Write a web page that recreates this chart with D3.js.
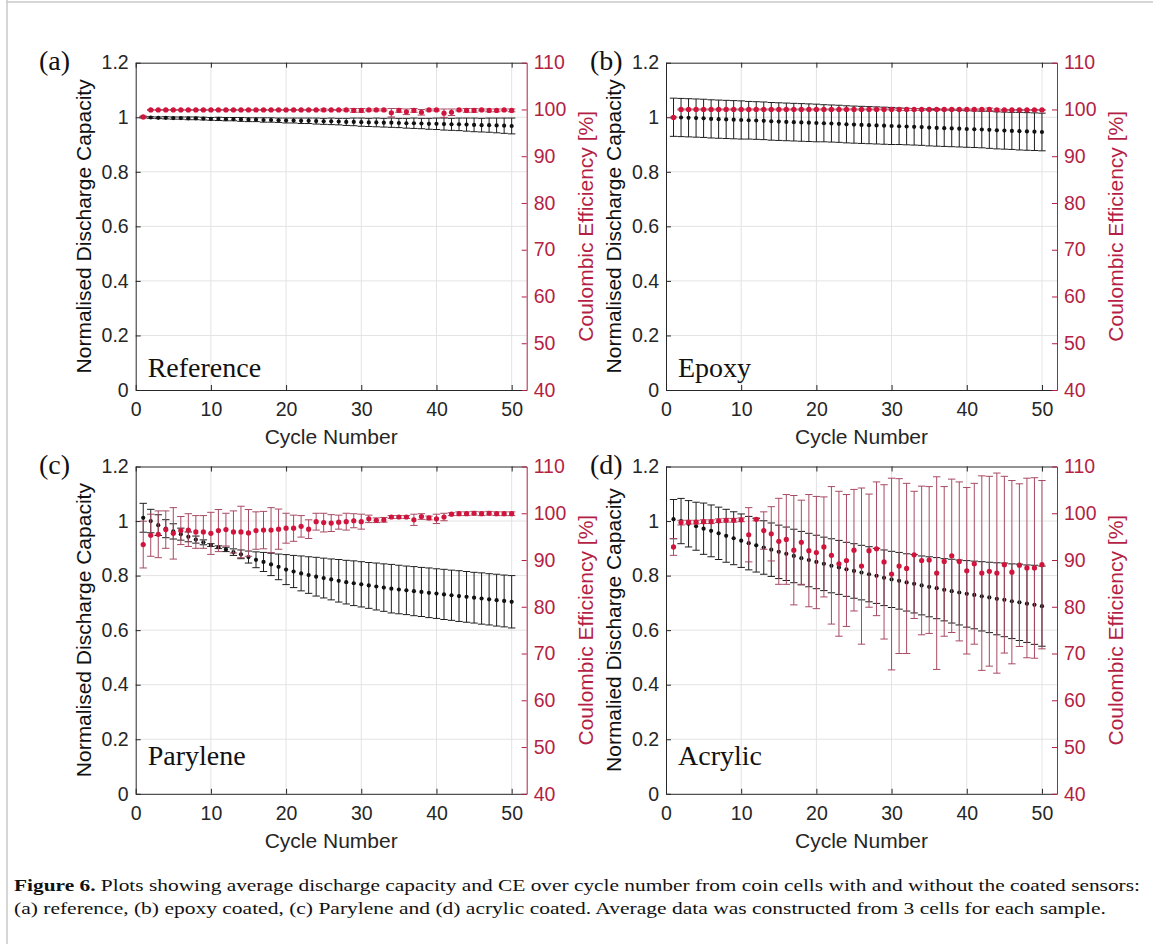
<!DOCTYPE html>
<html>
<head>
<meta charset="utf-8">
<script src="https://cdn.jsdelivr.net/npm/d3@7"></script>
<style>
body { margin: 0; background: #fff; }
text { font-family: "Liberation Sans", Arial, sans-serif; }
.serif { font-family: "Liberation Serif", "Times New Roman", serif; }
</style>
</head>
<body>
<svg id="fig" width="1153" height="944"></svg>
<script>
// cycle numbers (x categories)
const cycles = d3.range(1, 51)
const xTicks = [0, 10, 20, 30, 40, 50]
const capTicks = [0, 0.2, 0.4, 0.6, 0.8, 1, 1.2]
const ceTicks = [40, 50, 60, 70, 80, 90, 100, 110]

// (a) reference
const capA = [1.000,0.999,0.998,0.998,0.997,0.997,0.996,0.996,0.995,0.994,
  0.994,0.993,0.993,0.992,0.991,0.991,0.990,0.990,0.989,0.988,
  0.988,0.987,0.987,0.986,0.985,0.985,0.984,0.983,0.983,0.982,
  0.981,0.981,0.980,0.980,0.979,0.978,0.978,0.977,0.976,0.976,
  0.975,0.974,0.974,0.973,0.972,0.971,0.971,0.970,0.969,0.968]
const capAErr = [0.002,0.003,0.003,0.004,0.004,0.004,0.005,0.005,0.005,0.005,
  0.006,0.006,0.006,0.007,0.007,0.007,0.008,0.008,0.008,0.009,
  0.009,0.010,0.010,0.011,0.011,0.012,0.012,0.013,0.014,0.015,
  0.015,0.016,0.016,0.017,0.017,0.018,0.019,0.019,0.020,0.021,
  0.022,0.022,0.023,0.024,0.025,0.025,0.026,0.027,0.028,0.029]
const ceA = [98.4,99.9,99.9,99.9,99.9,99.9,99.9,99.9,99.9,99.9,
  99.9,99.9,99.9,99.9,99.9,99.9,99.9,99.9,99.9,99.9,
  99.9,99.9,99.9,99.9,99.9,99.9,99.9,99.9,99.8,99.8,
  99.9,99.9,99.9,99.3,99.8,99.5,99.8,99.4,99.9,99.9,
  99.2,99.4,99.9,99.8,99.8,99.9,99.8,99.8,99.9,99.8]
const ceAErr = [0.2,0.1,0.1,0.1,0.1,0.1,0.1,0.1,0.1,0.1,
  0.1,0.1,0.1,0.1,0.1,0.1,0.1,0.1,0.1,0.1,
  0.1,0.1,0.1,0.1,0.2,0.1,0.1,0.2,0.4,0.4,
  0.2,0.2,0.2,0.9,0.4,0.6,0.4,0.6,0.2,0.2,
  0.9,0.7,0.2,0.4,0.4,0.2,0.3,0.3,0.2,0.3]

// (b) epoxy
const capB = [1.000,0.999,0.998,0.997,0.996,0.994,0.993,0.992,0.991,0.990,
  0.989,0.988,0.987,0.985,0.984,0.983,0.982,0.981,0.980,0.979,
  0.978,0.977,0.976,0.974,0.973,0.972,0.971,0.970,0.969,0.968,
  0.967,0.966,0.965,0.964,0.962,0.961,0.960,0.959,0.958,0.957,
  0.956,0.955,0.954,0.952,0.951,0.950,0.949,0.948,0.947,0.946]
const capBErr = [0.070,0.070,0.070,0.070,0.070,0.070,0.070,0.070,0.070,0.070,
  0.069,0.069,0.069,0.069,0.069,0.069,0.069,0.069,0.069,0.069,
  0.068,0.068,0.068,0.068,0.068,0.068,0.068,0.068,0.068,0.068,
  0.067,0.067,0.067,0.067,0.067,0.067,0.067,0.067,0.067,0.067,
  0.067,0.067,0.068,0.068,0.068,0.068,0.069,0.069,0.069,0.069]
const ceB = [98.3,100.0,100.0,100.0,100.0,100.0,100.0,100.0,100.0,100.0,
  100.0,100.0,100.0,100.0,100.0,100.0,100.0,100.0,100.0,100.0,
  100.0,100.0,100.0,100.0,100.0,100.0,100.0,100.0,100.0,100.0,
  100.0,100.0,100.0,100.0,100.0,100.0,100.0,100.0,100.0,100.0,
  100.0,100.0,100.0,99.9,99.9,99.9,99.9,99.9,99.9,99.9]
const ceBErr = [0.1,0.1,0.1,0.1,0.1,0.1,0.1,0.1,0.1,0.1,
  0.1,0.1,0.1,0.1,0.1,0.1,0.1,0.1,0.1,0.1,
  0.1,0.1,0.1,0.1,0.1,0.1,0.1,0.1,0.1,0.1,
  0.2,0.2,0.2,0.2,0.2,0.2,0.1,0.1,0.1,0.1,
  0.1,0.1,0.3,0.2,0.1,0.1,0.1,0.1,0.1,0.1]

// (c) parylene
const capC = [1.012,1.000,0.985,0.972,0.962,0.952,0.942,0.932,0.922,0.912,
  0.904,0.896,0.886,0.878,0.868,0.858,0.850,0.841,0.832,0.822,
  0.815,0.808,0.802,0.796,0.791,0.786,0.781,0.776,0.772,0.768,
  0.764,0.760,0.756,0.752,0.749,0.746,0.743,0.740,0.737,0.734,
  0.731,0.728,0.725,0.722,0.719,0.716,0.713,0.710,0.707,0.704]
const capCErr = [0.053,0.043,0.038,0.033,0.028,0.022,0.018,0.013,0.009,0.005,
  0.005,0.008,0.012,0.016,0.022,0.029,0.035,0.041,0.047,0.055,
  0.059,0.064,0.067,0.071,0.073,0.075,0.078,0.080,0.082,0.083,
  0.084,0.086,0.087,0.089,0.089,0.089,0.090,0.090,0.091,0.091,
  0.092,0.092,0.093,0.093,0.093,0.094,0.094,0.095,0.095,0.096]
const ceC = [93.3,95.3,95.5,96.5,95.7,96.3,96.4,96.0,96.0,95.7,
  96.3,96.5,96.0,96.0,95.8,96.3,96.4,96.4,96.6,96.8,
  96.8,97.2,96.6,98.2,98.0,97.9,98.1,98.2,98.4,98.2,
  98.8,98.5,98.6,99.2,99.2,99.2,98.6,99.3,99.0,98.8,
  99.2,99.8,99.9,99.9,100.0,99.9,100.0,99.9,99.9,99.9]
const ceCErr = [5.0,4.5,5.0,4.0,5.5,3.0,3.5,3.5,3.5,4.5,
  4.5,3.5,4.5,5.5,5.0,4.0,4.0,4.8,4.3,3.2,
  2.8,2.3,2.0,1.8,2.0,1.8,1.5,1.8,1.5,1.6,
  0.8,0.5,0.5,0.3,0.3,0.3,1.2,0.6,0.4,1.0,
  0.8,0.3,0.4,0.4,0.4,0.4,0.4,0.4,0.4,0.4]

// (d) acrylic
const capD = [1.007,1.000,0.990,0.981,0.972,0.964,0.955,0.946,0.937,0.928,
  0.919,0.911,0.903,0.895,0.887,0.880,0.872,0.864,0.857,0.850,
  0.843,0.836,0.830,0.823,0.817,0.811,0.805,0.799,0.792,0.786,
  0.781,0.775,0.770,0.764,0.759,0.754,0.748,0.743,0.738,0.733,
  0.729,0.724,0.720,0.715,0.711,0.706,0.702,0.697,0.693,0.688]
const capDErr = [0.072,0.083,0.085,0.088,0.094,0.095,0.096,0.097,0.097,0.098,
  0.098,0.098,0.098,0.098,0.098,0.098,0.098,0.098,0.098,0.098,
  0.098,0.099,0.099,0.099,0.100,0.100,0.101,0.101,0.102,0.103,
  0.104,0.105,0.107,0.108,0.110,0.112,0.114,0.117,0.119,0.122,
  0.124,0.127,0.129,0.132,0.135,0.137,0.140,0.142,0.145,0.147]
const ceD = [92.8,98.0,98.1,98.1,98.2,98.2,98.4,98.5,98.5,98.6,
  95.4,98.7,96.3,95.6,94.0,94.4,92.1,93.8,92.0,91.6,
  92.8,91.0,89.2,89.9,92.1,88.7,92.0,92.4,89.6,87.0,
  88.7,88.2,91.1,89.9,90.0,87.2,89.7,90.9,89.7,87.7,
  89.2,87.2,87.6,87.2,89.0,87.4,88.9,88.3,88.3,89.0]
const ceDErr = [1.8,0.5,0.4,0.4,0.4,0.4,0.4,0.4,0.4,0.4,
  5.8,0.3,4.0,5.8,9.2,9.6,11.7,9.0,12.0,12.0,
  10.7,14.7,15.5,14.1,13.0,16.7,12.1,14.3,16.5,20.5,
  18.7,18.2,13.6,15.9,15.7,20.6,16.0,16.4,17.0,17.8,
  17.2,20.8,20.3,21.4,18.9,19.6,17.4,19.2,19.3,18.0]

const capLabels = ["Normalised Discharge Capacity", "Normalised Discharge Capacity",
  "Normalised Discharge Capacity", "Normalied Discharge Capacity"]
const sampleNames = ["Reference", "Epoxy", "Parylene", "Acrylic"]
const panelTags = ["(a)", "(b)", "(c)", "(d)"]

const W = 391, H = 327.3
const ink = "#262626", red = "#b41f45", redMark = "#d0143c", redBar = "#a84a63"
const tickFont = "19.5px", titleFont = "21px"

const svg = d3.select("#fig")

// thin frame round the figure
svg.append("line").attr("x1", 7).attr("x2", 7).attr("y1", 0).attr("y2", 944)
  .attr("stroke", "#c8c8c8").attr("stroke-width", 1.5)
svg.append("line").attr("x1", 7).attr("x2", 1153).attr("y1", 2).attr("y2", 2)
  .attr("stroke", "#c8c8c8").attr("stroke-width", 1.5)

const panels = [
  {left: 135.7, top: 62.7, cap: capA, capErr: capAErr, ce: ceA, ceErr: ceAErr, tagX: 39, nameY: 377},
  {left: 666, top: 62.7, cap: capB, capErr: capBErr, ce: ceB, ceErr: ceBErr, tagX: 590, nameY: 377},
  {left: 135.7, top: 466.5, cap: capC, capErr: capCErr, ce: ceC, ceErr: ceCErr, tagX: 39, nameY: 765},
  {left: 666, top: 466.5, cap: capD, capErr: capDErr, ce: ceD, ceErr: ceDErr, tagX: 590, nameY: 765}
]

function errorbars(g, x, y, vals, errs, color, capHalf){
  const d = cycles.map((c, i) => ({c: c, v: vals[i], e: errs[i]}))
  const eb = g.append("g").attr("stroke", color).attr("stroke-width", 1).attr("fill", "none")
  eb.selectAll(".v").data(d).enter().append("line")
    .attr("x1", d => x(d.c)).attr("x2", d => x(d.c))
    .attr("y1", d => y(d.v - d.e)).attr("y2", d => y(d.v + d.e))
  eb.selectAll(".t").data(d).enter().append("line")
    .attr("x1", d => x(d.c) - capHalf).attr("x2", d => x(d.c) + capHalf)
    .attr("y1", d => y(d.v + d.e)).attr("y2", d => y(d.v + d.e))
  eb.selectAll(".b").data(d).enter().append("line")
    .attr("x1", d => x(d.c) - capHalf).attr("x2", d => x(d.c) + capHalf)
    .attr("y1", d => y(d.v - d.e)).attr("y2", d => y(d.v - d.e))
  return d
}

panels.forEach(function(p, k){
  const g = svg.append("g")
  const x = d3.scaleLinear().domain([0, 52]).range([p.left, p.left + W])
  const yL = d3.scaleLinear().domain([0, 1.2]).range([p.top + H, p.top])
  const yR = d3.scaleLinear().domain([40, 110]).range([p.top + H, p.top])
  const bottom = p.top + H, right = p.left + W

  // grid
  g.append("g").selectAll("line").data(xTicks.slice(1)).enter().append("line")
    .attr("x1", d => x(d)).attr("x2", d => x(d)).attr("y1", p.top).attr("y2", bottom)
    .attr("stroke", "#e3e3e3")
  g.append("g").selectAll("line").data(capTicks.slice(1, 6)).enter().append("line")
    .attr("y1", d => yL(d)).attr("y2", d => yL(d)).attr("x1", p.left).attr("x2", right)
    .attr("stroke", "#e3e3e3")

  // axes, ticks inside like matlab
  const axB = g.append("g").attr("transform", `translate(0,${bottom})`)
    .call(d3.axisBottom(x).tickValues(xTicks).tickSize(-5).tickSizeOuter(0).tickPadding(12))
  const axT = g.append("g").attr("transform", `translate(0,${p.top})`)
    .call(d3.axisTop(x).tickValues(xTicks).tickSize(-5).tickSizeOuter(0).tickFormat(""))
  const axL = g.append("g").attr("transform", `translate(${p.left},0)`)
    .call(d3.axisLeft(yL).tickValues(capTicks).tickSize(-5).tickSizeOuter(0).tickPadding(7).tickFormat(d3.format("~g")))
  const axR = g.append("g").attr("transform", `translate(${right},0)`)
    .call(d3.axisRight(yR).tickValues(ceTicks).tickSize(-5).tickSizeOuter(0).tickPadding(7))

  ;[axB, axT, axL].forEach(a => {
    a.selectAll("path,line").attr("stroke", ink)
    a.selectAll("text").attr("fill", ink).style("font-size", tickFont)
  })
  axR.selectAll("path,line").attr("stroke", red)
  axR.selectAll("text").attr("fill", red).style("font-size", tickFont)
  g.selectAll(".domain").attr("stroke-width", 1)

  // data: capacity (left) then CE (right)
  const dc = errorbars(g, x, yL, p.cap, p.capErr, "#1e1e1e", 3.7)
  g.append("g").selectAll("circle").data(dc).enter().append("circle")
    .attr("cx", d => x(d.c)).attr("cy", d => yL(d.v)).attr("r", 2.1).attr("fill", "#111")
  const dr = errorbars(g, x, yR, p.ce, p.ceErr, redBar, 3.7)
  g.append("g").selectAll("circle").data(dr).enter().append("circle")
    .attr("cx", d => x(d.c)).attr("cy", d => yR(d.v)).attr("r", 2.6).attr("fill", redMark)

  // axis titles
  g.append("text").attr("x", (p.left + right) / 2).attr("y", bottom + 54)
    .attr("text-anchor", "middle").attr("fill", ink).style("font-size", titleFont).text("Cycle Number")
  g.append("text").attr("transform", `translate(${p.left - 52},${p.top + H / 2}) rotate(-90)`)
    .attr("dy", "0.35em").attr("text-anchor", "middle").attr("fill", "#111")
    .style("font-size", titleFont).text(capLabels[k])
  g.append("text").attr("transform", `translate(${right + 59},${p.top + H / 2}) rotate(-90)`)
    .attr("dy", "0.35em").attr("text-anchor", "middle").attr("fill", red)
    .style("font-size", titleFont).text("Coulombic Efficiency [%]")

  // panel tag and sample name
  g.append("text").attr("class", "serif").attr("x", p.tagX).attr("y", p.top + 7)
    .style("font-size", "28px").attr("fill", "#111").text(panelTags[k])
  g.append("text").attr("class", "serif").attr("x", p.left + 12).attr("y", p.nameY)
    .style("font-size", "28px").attr("fill", "#111").text(sampleNames[k])
})

// caption
const cap = svg.append("g").attr("class", "serif").style("font-size", "17px").attr("fill", "#111")
const l1 = cap.append("text").attr("class", "serif").attr("x", 14).attr("y", 891)
  .attr("textLength", 1126).attr("lengthAdjust", "spacingAndGlyphs")
l1.append("tspan").style("font-weight", "bold").text("Figure 6.")
l1.append("tspan").text(" Plots showing average discharge capacity and CE over cycle number from coin cells with and without the coated sensors:")
cap.append("text").attr("class", "serif").attr("x", 14).attr("y", 914)
  .attr("textLength", 1092).attr("lengthAdjust", "spacingAndGlyphs")
  .text("(a) reference, (b) epoxy coated, (c) Parylene and (d) acrylic coated. Average data was constructed from 3 cells for each sample.")
</script>
</body>
</html>
